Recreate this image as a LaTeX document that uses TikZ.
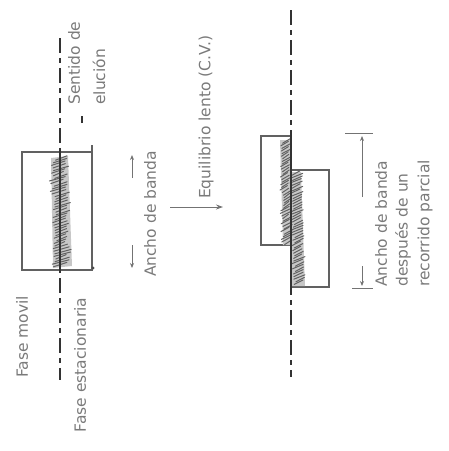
\documentclass[tikz,border=0pt]{standalone}
\usepackage{fontspec}
\setmainfont{DejaVu Sans}
\usetikzlibrary{decorations.pathmorphing,arrows.meta}

% scribbled hatching of a solute band: #1 top y, #2 bottom y,
% #3 centre x at top, #4 centre x at bottom, #5 half width
\newcommand{\hatchband}[5]{%
  \pgfmathsetmacro{\hbn}{int((#2-#1)/2.6)}%
  \foreach \k in {0,...,\hbn}{%
    \pgfmathsetmacro{\yy}{#1+2.6*\k}%
    \pgfmathsetmacro{\xc}{#3+(#4-#3)*(\yy-#1)/(#2-#1)+1.5*rand}%
    \pgfmathsetmacro{\wl}{#5*(0.75+0.25*rand)}%
    \pgfmathsetmacro{\wr}{#5*(0.75+0.25*rand)}%
    \draw[hatchstroke] (\xc-\wl,\yy+2.2) -- (\xc+\wr,\yy-2.2);
  }%
}

\begin{document}
\begin{tikzpicture}[x=1pt,y=-1pt,
  lbl/.style={font=\fontsize{15.5}{18}\selectfont, text=black!52, rotate=90, inner sep=0pt},
  phasebox/.style={draw=black!62, line width=1.1pt, inner sep=0pt},
  axis/.style={draw=black!80, line width=1.4pt},
  dashaxis/.style={axis, dash pattern=on 15pt off 5pt on 5pt off 5pt},
  hatchstroke/.style={draw=black!62, line width=1pt, line cap=round},
  bandfill/.style={fill=black!22},
  dim/.style={draw=black!55, line width=0.8pt},
  tip/.style={-{Stealth[length=5pt,width=4pt]}}
]
\useasboundingbox (0,0) rectangle (449,451);
\pgfmathsetseed{4711}

% ---------- initial band ----------
\node[phasebox, minimum width=70pt, minimum height=118pt] (box0) at (57,211) {};
\coordinate (axL-top) at (60,38);
\coordinate (axL-bot) at (60,380);
\coordinate (axL-in1) at (60,150);
\coordinate (axL-in2) at (60,272);
\fill[bandfill] (51,158) -- (68,156) -- (72,266) -- (53,268) -- cycle;
\hatchband{158}{266}{59}{62}{9}
\draw[dashaxis] (axL-top) -- (axL-bot);
\draw[axis] (axL-in1) -- (axL-in2);
\coordinate (edge-top) at (92,145);
\coordinate (edge-bot) at (92,152);
\draw[phasebox] (edge-top) -- (edge-bot);
\fill[black!70] (93,268) circle (1.6pt);

\node[lbl, anchor=west] (sent1) at (74,105) {Sentido de};
\node[lbl, anchor=west] (sent2) at (99,105) {elución};
\coordinate (sdir-a) at (82,123);
\coordinate (sdir-b) at (82,116);
\draw[axis, line width=1.6pt] (sdir-a) -- (sdir-b);

\node[lbl] (movil) at (22,337) {Fase movil};
\node[lbl] (estac) at (80,365) {Fase estacionaria};

\node[lbl] (ancho0) at (150,214) {Ancho de banda};
\coordinate (d0-a) at (132,178);
\coordinate (d0-b) at (132,155);
\coordinate (d0-c) at (132,245);
\coordinate (d0-d) at (132,268);
\draw[dim,tip] (d0-a) -- (d0-b);
\draw[dim,tip] (d0-c) -- (d0-d);

% ---------- slow equilibrium ----------
\coordinate (eq-a) at (170,207);
\coordinate (eq-b) at (223,207);
\draw[dim, line width=1pt, -{Stealth[length=7pt,width=5pt]}] (eq-a) -- (eq-b);
\node[lbl, anchor=west] (equil) at (206,199) {Equilibrio lento (C.V.)};

% ---------- band after partial run ----------
\node[phasebox, minimum width=30pt, minimum height=109pt] (boxM) at (276,190.5) {};
\node[phasebox, minimum width=38pt, minimum height=117pt] (boxS) at (310,228.5) {};
\coordinate (axR-top) at (291,10);
\coordinate (axR-bot) at (291,377);
\coordinate (axR-in1) at (291,134);
\coordinate (axR-in2) at (291,289);
\fill[bandfill] (280,140) -- (291,140) -- (291,245) -- (283,245) -- cycle;
\fill[bandfill] (291,172) -- (301,172) -- (305,286) -- (291,286) -- cycle;
\hatchband{141}{243}{285}{287}{5}
\hatchband{173}{284}{296}{299}{6}
\draw[dashaxis] (axR-top) -- (axR-bot);
\draw[axis] (axR-in1) -- (axR-in2);

\coordinate (e1-a) at (345,133);
\coordinate (e1-b) at (373,133);
\coordinate (e2-a) at (352,288);
\coordinate (e2-b) at (373,288);
\draw[dim] (e1-a) -- (e1-b);
\draw[dim] (e2-a) -- (e2-b);
\coordinate (d1-a) at (362,197);
\coordinate (d1-b) at (362,136);
\coordinate (d1-c) at (362,266);
\coordinate (d1-d) at (362,286);
\draw[dim,tip] (d1-a) -- (d1-b);
\draw[dim,tip] (d1-c) -- (d1-d);

\node[lbl, anchor=west] (ancho1) at (381,287) {Ancho de banda};
\node[lbl, anchor=west] (ancho2) at (403,287) {después de un};
\node[lbl, anchor=west] (ancho3) at (425,287) {recorrido parcial};
\end{tikzpicture}
\end{document}
